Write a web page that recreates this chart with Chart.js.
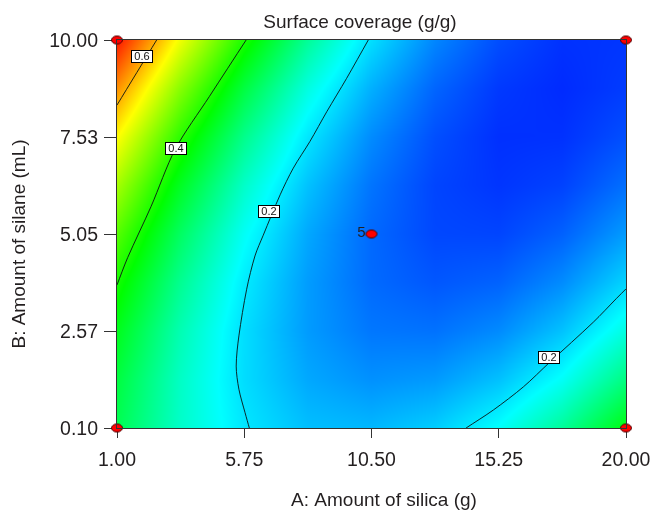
<!DOCTYPE html>
<html>
<head>
<meta charset="utf-8">
<script src="https://cdn.jsdelivr.net/npm/chart.js@4.4.0/dist/chart.umd.min.js"></script>
<style>
  html, body { margin: 0; padding: 0; background: #fff; }
</style>
</head>
<body>
<canvas id="surfaceChart" width="650" height="516"></canvas>
<script>
// === Data ===
const chartTitle = "Surface coverage (g/g)";
const xTitle = "A: Amount of silica (g)";
const yTitle = "B: Amount of silane (mL)";

const xTickValues = [1, 5.75, 10.5, 15.25, 20];
const xTickLabels = ["1.00", "5.75", "10.50", "15.25", "20.00"];
const yTickValues = [0.1, 2.575, 5.05, 7.525, 10];
const yTickLabels = ["0.10", "2.57", "5.05", "7.53", "10.00"];

// response grid (g/g): one row per gridY value, bottom row first
const gridX = [1, 3.375, 5.75, 8.125, 10.5, 12.875, 15.25, 17.625, 20];
const gridY = [0.1, 1.3375, 2.575, 3.8125, 5.05, 6.2875, 7.525, 8.7625, 10];
const coverage = [
  [0.334, 0.256, 0.203, 0.172, 0.166, 0.183, 0.224, 0.288, 0.376],
  [0.347, 0.259, 0.195, 0.154, 0.136, 0.143, 0.173, 0.226, 0.304],
  [0.370, 0.271, 0.196, 0.144, 0.116, 0.112, 0.131, 0.174, 0.241],
  [0.402, 0.293, 0.207, 0.145, 0.106, 0.091, 0.100, 0.132, 0.188],
  [0.444, 0.324, 0.227, 0.154, 0.105, 0.079, 0.077, 0.099, 0.144],
  [0.496, 0.365, 0.257, 0.174, 0.114, 0.077, 0.065, 0.075, 0.110],
  [0.556, 0.415, 0.297, 0.203, 0.132, 0.085, 0.061, 0.062, 0.085],
  [0.627, 0.475, 0.346, 0.241, 0.160, 0.102, 0.068, 0.057, 0.070],
  [0.707, 0.544, 0.405, 0.289, 0.197, 0.128, 0.084, 0.062, 0.065]
];

// contour lines
const contour06 = [{x: 2.48, y: 10}, {x: 1, y: 8.34}];
const contour04 = [
  {x: 5.82, y: 10}, {x: 4.45, y: 8.56}, {x: 3.18, y: 7.22}, {x: 2.27, y: 5.75},
  {x: 1.40, y: 4.45}, {x: 1, y: 3.75}
];
const contour02Left = [
  {x: 10.38, y: 10}, {x: 9.57, y: 9.02}, {x: 8.83, y: 8.17}, {x: 8.20, y: 7.41},
  {x: 7.58, y: 6.73}, {x: 7.09, y: 6.05}, {x: 6.46, y: 5.02}, {x: 6.15, y: 4.49},
  {x: 5.84, y: 3.64}, {x: 5.55, y: 2.45}, {x: 5.45, y: 1.68}, {x: 5.55, y: 1.09},
  {x: 5.78, y: 0.49}, {x: 5.94, y: 0.1}
];
const contour02Right = [
  {x: 14.03, y: 0.1}, {x: 15.05, y: 0.56}, {x: 16.17, y: 1.15}, {x: 17.14, y: 1.77},
  {x: 18.78, y: 2.80}, {x: 19.65, y: 3.41}, {x: 20, y: 3.65}
];
const contourLabels = [
  {x: 1.92, y: 9.57, text: "0.6"},
  {x: 3.19, y: 7.22, text: "0.4"},
  {x: 6.69, y: 5.60, text: "0.2"},
  {x: 17.13, y: 1.88, text: "0.2"}
];

const designPoints = [
  {x: 1, y: 10}, {x: 20, y: 10}, {x: 1, y: 0.1}, {x: 20, y: 0.1}, {x: 10.5, y: 5.05}
];
const designPointLabels = ["", "", "", "", "5"];

// === helpers ===
const FONT = "'Liberation Sans', Arial, sans-serif";
const TEXT_COLOR = "#231f20";

// blue -> cyan -> green -> yellow -> red
const colorStops = [[0, 40, 255], [0, 255, 255], [0, 255, 0], [255, 255, 0], [255, 0, 0]];
const colorMin = 0.055;
const colorMax = 0.72;

function colorFor(v) {
  let t = (v - colorMin) / (colorMax - colorMin);
  t = Math.max(0, Math.min(1, t)) * (colorStops.length - 1);
  const i = Math.min(Math.floor(t), colorStops.length - 2);
  const f = t - i;
  const a = colorStops[i], b = colorStops[i + 1];
  return [a[0] + (b[0] - a[0]) * f, a[1] + (b[1] - a[1]) * f, a[2] + (b[2] - a[2]) * f];
}

function findCell(arr, v) {
  for (let i = 0; i < arr.length - 1; i++) {
    if (v <= arr[i + 1]) return i;
  }
  return arr.length - 2;
}

// bilinear lookup in the grid
function sample(xv, yv) {
  const i = findCell(gridX, xv);
  const j = findCell(gridY, yv);
  const fx = Math.max(0, Math.min(1, (xv - gridX[i]) / (gridX[i + 1] - gridX[i])));
  const fy = Math.max(0, Math.min(1, (yv - gridY[j]) / (gridY[j + 1] - gridY[j])));
  const z00 = coverage[j][i], z10 = coverage[j][i + 1];
  const z01 = coverage[j + 1][i], z11 = coverage[j + 1][i + 1];
  return z00 * (1 - fx) * (1 - fy) + z10 * fx * (1 - fy) + z01 * (1 - fx) * fy + z11 * fx * fy;
}

function makeDot() {
  const c = document.createElement("canvas");
  c.width = 14;
  c.height = 11;
  const g = c.getContext("2d");
  g.beginPath();
  g.ellipse(7, 5.5, 5.5, 4, 0, 0, Math.PI * 2);
  g.fillStyle = "#ff0000";
  g.fill();
  g.lineWidth = 1;
  g.strokeStyle = "#4a0000";
  g.stroke();
  return c;
}

const surfacePlugin = {
  id: "surface",
  beforeDatasetsDraw(chart) {
    const { ctx, chartArea: area, scales } = chart;
    const w = Math.round(area.right - area.left);
    const h = Math.round(area.bottom - area.top);
    const off = document.createElement("canvas");
    off.width = w;
    off.height = h;
    const octx = off.getContext("2d");
    const img = octx.createImageData(w, h);
    for (let j = 0; j < h; j++) {
      const yv = scales.y.getValueForPixel(area.top + j + 0.5);
      for (let i = 0; i < w; i++) {
        const xv = scales.x.getValueForPixel(area.left + i + 0.5);
        const c = colorFor(sample(xv, yv));
        const k = (j * w + i) * 4;
        img.data[k] = c[0];
        img.data[k + 1] = c[1];
        img.data[k + 2] = c[2];
        img.data[k + 3] = 255;
      }
    }
    octx.putImageData(img, 0, 0);
    ctx.drawImage(off, area.left, area.top);
  },
  afterDatasetsDraw(chart) {
    const { ctx, chartArea: area, scales } = chart;
    ctx.save();
    // plot frame
    ctx.strokeStyle = "#333";
    ctx.lineWidth = 1;
    ctx.strokeRect(area.left - 0.5, area.top - 0.5, area.right - area.left + 1, area.bottom - area.top + 1);

    // contour value boxes
    ctx.font = "11px " + FONT;
    ctx.textAlign = "center";
    ctx.textBaseline = "middle";
    contourLabels.forEach(function (lab) {
      const px = Math.round(scales.x.getPixelForValue(lab.x));
      const py = Math.round(scales.y.getPixelForValue(lab.y));
      ctx.fillStyle = "#fff";
      ctx.fillRect(px - 10, py - 6, 20, 11);
      ctx.strokeStyle = "#000";
      ctx.strokeRect(px - 10.5, py - 6.5, 21, 12);
      ctx.fillStyle = "#111";
      ctx.fillText(lab.text, px, py);
    });

    // design point labels
    const meta = chart.getDatasetMeta(chart.data.datasets.length - 1);
    ctx.font = "15px " + FONT;
    ctx.textAlign = "right";
    ctx.fillStyle = TEXT_COLOR;
    meta.data.forEach(function (pt, i) {
      if (designPointLabels[i]) ctx.fillText(designPointLabels[i], pt.x - 6, pt.y - 1);
    });
    ctx.restore();
  },
  afterDraw(chart) {
    const { ctx } = chart;
    ctx.save();
    ctx.fillStyle = TEXT_COLOR;
    ctx.font = "19px " + FONT;
    ctx.textAlign = "center";
    ctx.textBaseline = "alphabetic";
    ctx.fillText(chartTitle, 360, 28);
    ctx.fillText(xTitle, 384, 506);
    ctx.translate(25, 244);
    ctx.rotate(-Math.PI / 2);
    ctx.fillText(yTitle, 0, 0);
    ctx.restore();
  }
};

const lineStyle = {
  showLine: true,
  pointRadius: 0,
  borderColor: "rgba(10,20,20,0.9)",
  borderWidth: 1,
  tension: 0.3,
  fill: false
};

const ctx = document.getElementById("surfaceChart").getContext("2d");
const chart = new Chart(ctx, {
  type: "scatter",
  data: {
    datasets: [
      Object.assign({ label: "0.6", data: contour06 }, lineStyle),
      Object.assign({ label: "0.4", data: contour04 }, lineStyle),
      Object.assign({ label: "0.2 left", data: contour02Left }, lineStyle),
      Object.assign({ label: "0.2 right", data: contour02Right }, lineStyle),
      {
        label: "Design points",
        data: designPoints,
        pointStyle: makeDot(),
        pointRadius: 6,
        clip: false
      }
    ]
  },
  options: {
    responsive: false,
    animation: false,
    devicePixelRatio: 1,
    layout: { padding: { top: 40, right: 24, left: 0, bottom: 0 } },
    plugins: {
      legend: { display: false },
      tooltip: { enabled: false }
    },
    scales: {
      x: {
        type: "linear",
        min: 1,
        max: 20,
        afterFit: function (scale) {
          scale.height = 88;
          scale.paddingLeft = 0;
          scale.paddingRight = 0;
        },
        afterBuildTicks: function (scale) {
          scale.ticks = xTickValues.map(function (v) { return { value: v }; });
        },
        ticks: {
          autoSkip: false,
          maxRotation: 0,
          padding: 11,
          color: TEXT_COLOR,
          font: { family: FONT, size: 19.5, lineHeight: 1.2 },
          callback: function (value, index) { return xTickLabels[index]; }
        },
        grid: { drawOnChartArea: false, tickLength: 10, color: "#333" },
        border: { color: "#333" }
      },
      y: {
        type: "linear",
        min: 0.1,
        max: 10,
        afterFit: function (scale) {
          scale.width = 117;
          scale.paddingTop = 0;
          scale.paddingBottom = 0;
        },
        afterBuildTicks: function (scale) {
          scale.ticks = yTickValues.map(function (v) { return { value: v }; });
        },
        ticks: {
          autoSkip: false,
          padding: 6,
          labelOffset: 1.5,
          color: TEXT_COLOR,
          font: { family: FONT, size: 19.5, lineHeight: 1.2 },
          callback: function (value, index) { return yTickLabels[index]; }
        },
        grid: { drawOnChartArea: false, tickLength: 13, color: "#333" },
        border: { color: "#333" }
      }
    }
  },
  plugins: [surfacePlugin]
});
</script>
</body>
</html>
